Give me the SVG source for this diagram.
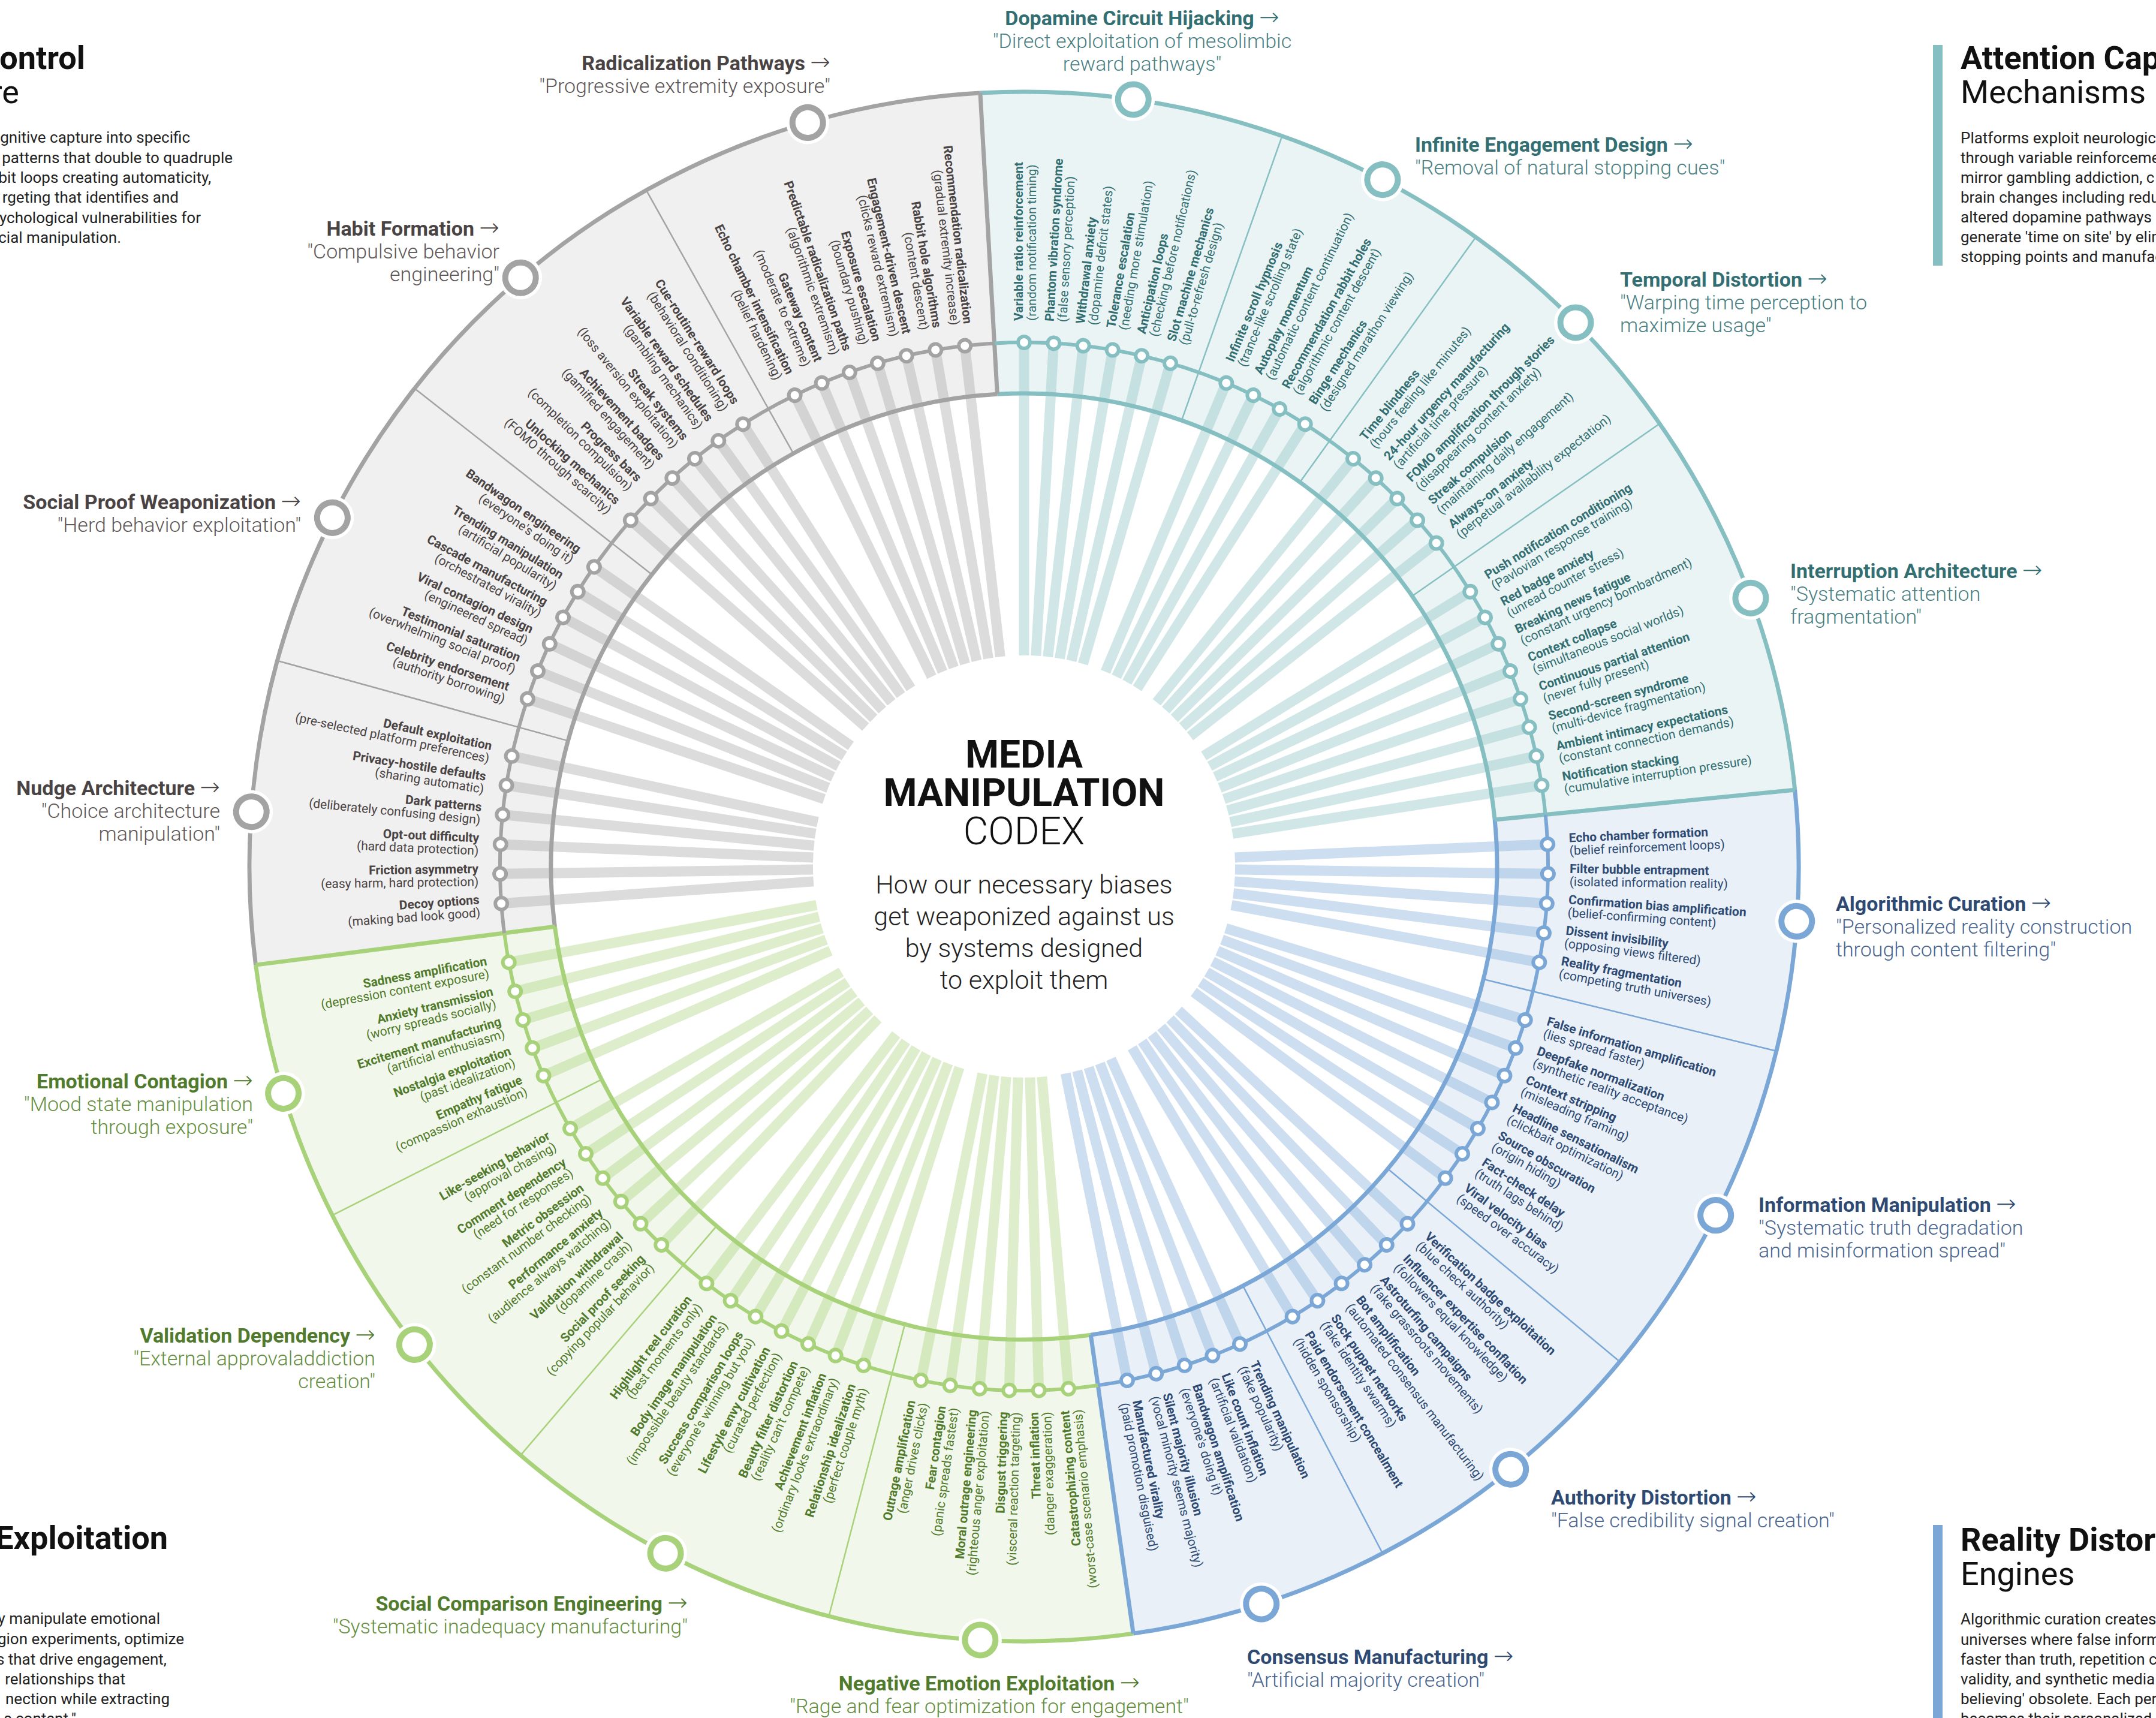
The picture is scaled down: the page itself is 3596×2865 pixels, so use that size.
<svg xmlns="http://www.w3.org/2000/svg" xmlns:xlink="http://www.w3.org/1999/xlink" width="3596" height="2865" viewBox="0 0 3596 2865">
<style>
text{font-family:Roboto,"Liberation Sans",Arial,sans-serif}
.b{font-weight:700;font-size:21px}
.p{font-weight:400;font-size:21px}
.L{text-anchor:end}
.cT{fill:#336f72}.cB{fill:#2e4a72}.cG{fill:#517b2c}.cY{fill:#4a4343}
.rT{stroke:#85bfc1}.rB{stroke:#7ba7d7}.rG{stroke:#a8d27a}.rY{stroke:#a3a3a3}
.arc{fill:none;stroke-width:7}
.ring{fill:none;stroke-width:6}
.dv{stroke-width:2.5}
.bd7{stroke-width:7}
.halo{fill:#fff}
.node{fill:#fff;stroke-width:10}
.lt{font-weight:700;font-size:34px}
.ls{font-weight:300;font-size:34px}
.ar{font-family:"DejaVu Sans",sans-serif;font-weight:200;font-size:40px}
.lT{fill:#336f72}.sT{fill:#4b8183}
.lB{fill:#2e4a72}.sB{fill:#4a6690}
.lG{fill:#517b2c}.sG{fill:#66903f}
.lY{fill:#4a4343}.sY{fill:#5e5757}
.h1{font-weight:700;font-size:54px;fill:#111}
.h2{font-weight:400;font-size:54px;fill:#111}
.bt{font-weight:400;font-size:26px;fill:#222}
.m1{font-weight:700;font-size:64px;fill:#111;text-anchor:middle}
.m2{font-weight:300;font-size:64px;fill:#111;text-anchor:middle}
.m3{font-weight:300;font-size:43px;fill:#222;text-anchor:middle}
</style>
<defs>
<line id="ry" x1="1708" y1="1093" x2="1708" y2="571" stroke-width="17" stroke-opacity="0.38"/>
<circle id="dt" cx="1708" cy="571" r="10" fill="#fff" stroke-width="6"/>
<line id="dl" x1="1708" y1="656" x2="1708" y2="153"/>
</defs>
<rect width="3596" height="2865" fill="#fff"/>

<g id="panels">
<path fill="#eaf4f4" d="M1634.9,155.1 A1292,1292 0 0 1 2993.7,1317.2 L2493.1,1367.0 A789,789 0 0 0 1663.4,657.3 Z"/>
<path fill="#e9f0f8" d="M2993.7,1317.2 A1292,1292 0 0 1 1890.2,2724.1 L1819.3,2226.1 A789,789 0 0 0 2493.1,1367.0 Z"/>
<path fill="#f1f7ea" d="M1890.2,2724.1 A1292,1292 0 0 1 426.5,1609.1 L925.4,1545.2 A789,789 0 0 0 1819.3,2226.1 Z"/>
<path fill="#f0f0f0" d="M426.5,1609.1 A1292,1292 0 0 1 1634.9,155.1 L1663.4,657.3 A789,789 0 0 0 925.4,1545.2 Z"/>
</g>

<g id="connectors">
<use xlink:href="#ry" class="rT" transform="rotate(0 1708 1445)"/>
<use xlink:href="#ry" class="rT" transform="rotate(3.2432 1708 1445)"/>
<use xlink:href="#ry" class="rT" transform="rotate(6.4865 1708 1445)"/>
<use xlink:href="#ry" class="rT" transform="rotate(9.7297 1708 1445)"/>
<use xlink:href="#ry" class="rT" transform="rotate(12.973 1708 1445)"/>
<use xlink:href="#ry" class="rT" transform="rotate(16.2162 1708 1445)"/>
<use xlink:href="#ry" class="rT" transform="rotate(22.7027 1708 1445)"/>
<use xlink:href="#ry" class="rT" transform="rotate(25.9459 1708 1445)"/>
<use xlink:href="#ry" class="rT" transform="rotate(29.1892 1708 1445)"/>
<use xlink:href="#ry" class="rT" transform="rotate(32.4324 1708 1445)"/>
<use xlink:href="#ry" class="rT" transform="rotate(38.9189 1708 1445)"/>
<use xlink:href="#ry" class="rT" transform="rotate(42.1622 1708 1445)"/>
<use xlink:href="#ry" class="rT" transform="rotate(45.4054 1708 1445)"/>
<use xlink:href="#ry" class="rT" transform="rotate(48.6486 1708 1445)"/>
<use xlink:href="#ry" class="rT" transform="rotate(51.8919 1708 1445)"/>
<use xlink:href="#ry" class="rT" transform="rotate(58.3784 1708 1445)"/>
<use xlink:href="#ry" class="rT" transform="rotate(61.6216 1708 1445)"/>
<use xlink:href="#ry" class="rT" transform="rotate(64.8649 1708 1445)"/>
<use xlink:href="#ry" class="rT" transform="rotate(68.1081 1708 1445)"/>
<use xlink:href="#ry" class="rT" transform="rotate(71.3514 1708 1445)"/>
<use xlink:href="#ry" class="rT" transform="rotate(74.5946 1708 1445)"/>
<use xlink:href="#ry" class="rT" transform="rotate(77.8378 1708 1445)"/>
<use xlink:href="#ry" class="rT" transform="rotate(81.0811 1708 1445)"/>
<use xlink:href="#ry" class="rB" transform="rotate(87.5676 1708 1445)"/>
<use xlink:href="#ry" class="rB" transform="rotate(90.8108 1708 1445)"/>
<use xlink:href="#ry" class="rB" transform="rotate(94.0541 1708 1445)"/>
<use xlink:href="#ry" class="rB" transform="rotate(97.2973 1708 1445)"/>
<use xlink:href="#ry" class="rB" transform="rotate(100.5405 1708 1445)"/>
<use xlink:href="#ry" class="rB" transform="rotate(107.027 1708 1445)"/>
<use xlink:href="#ry" class="rB" transform="rotate(110.2703 1708 1445)"/>
<use xlink:href="#ry" class="rB" transform="rotate(113.5135 1708 1445)"/>
<use xlink:href="#ry" class="rB" transform="rotate(116.7568 1708 1445)"/>
<use xlink:href="#ry" class="rB" transform="rotate(120 1708 1445)"/>
<use xlink:href="#ry" class="rB" transform="rotate(123.2432 1708 1445)"/>
<use xlink:href="#ry" class="rB" transform="rotate(126.4865 1708 1445)"/>
<use xlink:href="#ry" class="rB" transform="rotate(132.973 1708 1445)"/>
<use xlink:href="#ry" class="rB" transform="rotate(136.2162 1708 1445)"/>
<use xlink:href="#ry" class="rB" transform="rotate(139.4595 1708 1445)"/>
<use xlink:href="#ry" class="rB" transform="rotate(142.7027 1708 1445)"/>
<use xlink:href="#ry" class="rB" transform="rotate(145.9459 1708 1445)"/>
<use xlink:href="#ry" class="rB" transform="rotate(149.1892 1708 1445)"/>
<use xlink:href="#ry" class="rB" transform="rotate(155.6757 1708 1445)"/>
<use xlink:href="#ry" class="rB" transform="rotate(158.9189 1708 1445)"/>
<use xlink:href="#ry" class="rB" transform="rotate(162.1622 1708 1445)"/>
<use xlink:href="#ry" class="rB" transform="rotate(165.4054 1708 1445)"/>
<use xlink:href="#ry" class="rB" transform="rotate(168.6486 1708 1445)"/>
<use xlink:href="#ry" class="rG" transform="rotate(175.1351 1708 1445)"/>
<use xlink:href="#ry" class="rG" transform="rotate(178.3784 1708 1445)"/>
<use xlink:href="#ry" class="rG" transform="rotate(181.6216 1708 1445)"/>
<use xlink:href="#ry" class="rG" transform="rotate(184.8649 1708 1445)"/>
<use xlink:href="#ry" class="rG" transform="rotate(188.1081 1708 1445)"/>
<use xlink:href="#ry" class="rG" transform="rotate(191.3514 1708 1445)"/>
<use xlink:href="#ry" class="rG" transform="rotate(197.8378 1708 1445)"/>
<use xlink:href="#ry" class="rG" transform="rotate(201.0811 1708 1445)"/>
<use xlink:href="#ry" class="rG" transform="rotate(204.3243 1708 1445)"/>
<use xlink:href="#ry" class="rG" transform="rotate(207.5676 1708 1445)"/>
<use xlink:href="#ry" class="rG" transform="rotate(210.8108 1708 1445)"/>
<use xlink:href="#ry" class="rG" transform="rotate(214.0541 1708 1445)"/>
<use xlink:href="#ry" class="rG" transform="rotate(217.2973 1708 1445)"/>
<use xlink:href="#ry" class="rG" transform="rotate(223.7838 1708 1445)"/>
<use xlink:href="#ry" class="rG" transform="rotate(227.027 1708 1445)"/>
<use xlink:href="#ry" class="rG" transform="rotate(230.2703 1708 1445)"/>
<use xlink:href="#ry" class="rG" transform="rotate(233.5135 1708 1445)"/>
<use xlink:href="#ry" class="rG" transform="rotate(236.7568 1708 1445)"/>
<use xlink:href="#ry" class="rG" transform="rotate(240 1708 1445)"/>
<use xlink:href="#ry" class="rG" transform="rotate(246.4865 1708 1445)"/>
<use xlink:href="#ry" class="rG" transform="rotate(249.7297 1708 1445)"/>
<use xlink:href="#ry" class="rG" transform="rotate(252.973 1708 1445)"/>
<use xlink:href="#ry" class="rG" transform="rotate(256.2162 1708 1445)"/>
<use xlink:href="#ry" class="rG" transform="rotate(259.4595 1708 1445)"/>
<use xlink:href="#ry" class="rY" transform="rotate(265.9459 1708 1445)"/>
<use xlink:href="#ry" class="rY" transform="rotate(269.1892 1708 1445)"/>
<use xlink:href="#ry" class="rY" transform="rotate(272.4324 1708 1445)"/>
<use xlink:href="#ry" class="rY" transform="rotate(275.6757 1708 1445)"/>
<use xlink:href="#ry" class="rY" transform="rotate(278.9189 1708 1445)"/>
<use xlink:href="#ry" class="rY" transform="rotate(282.1622 1708 1445)"/>
<use xlink:href="#ry" class="rY" transform="rotate(288.6486 1708 1445)"/>
<use xlink:href="#ry" class="rY" transform="rotate(291.8919 1708 1445)"/>
<use xlink:href="#ry" class="rY" transform="rotate(295.1351 1708 1445)"/>
<use xlink:href="#ry" class="rY" transform="rotate(298.3784 1708 1445)"/>
<use xlink:href="#ry" class="rY" transform="rotate(301.6216 1708 1445)"/>
<use xlink:href="#ry" class="rY" transform="rotate(304.8649 1708 1445)"/>
<use xlink:href="#ry" class="rY" transform="rotate(311.3514 1708 1445)"/>
<use xlink:href="#ry" class="rY" transform="rotate(314.5946 1708 1445)"/>
<use xlink:href="#ry" class="rY" transform="rotate(317.8378 1708 1445)"/>
<use xlink:href="#ry" class="rY" transform="rotate(321.0811 1708 1445)"/>
<use xlink:href="#ry" class="rY" transform="rotate(324.3243 1708 1445)"/>
<use xlink:href="#ry" class="rY" transform="rotate(327.5676 1708 1445)"/>
<use xlink:href="#ry" class="rY" transform="rotate(334.0541 1708 1445)"/>
<use xlink:href="#ry" class="rY" transform="rotate(337.2973 1708 1445)"/>
<use xlink:href="#ry" class="rY" transform="rotate(340.5405 1708 1445)"/>
<use xlink:href="#ry" class="rY" transform="rotate(343.7838 1708 1445)"/>
<use xlink:href="#ry" class="rY" transform="rotate(347.027 1708 1445)"/>
<use xlink:href="#ry" class="rY" transform="rotate(350.2703 1708 1445)"/>
<use xlink:href="#ry" class="rY" transform="rotate(353.5135 1708 1445)"/>
</g>

<g id="frame">
<path class="arc rT" d="M1634.9,155.1 A1292,1292 0 0 1 2993.7,1317.2"/>
<path class="arc rB" d="M2993.7,1317.2 A1292,1292 0 0 1 1890.2,2724.1"/>
<path class="arc rG" d="M1890.2,2724.1 A1292,1292 0 0 1 426.5,1609.1"/>
<path class="arc rY" d="M426.5,1609.1 A1292,1292 0 0 1 1634.9,155.1"/>
<path class="arc rT" d="M1663.4,657.3 A789,789 0 0 1 2493.1,1367.0"/>
<path class="arc rB" d="M2493.1,1367.0 A789,789 0 0 1 1819.3,2226.1"/>
<path class="arc rG" d="M1819.3,2226.1 A789,789 0 0 1 925.4,1545.2"/>
<path class="arc rY" d="M925.4,1545.2 A789,789 0 0 1 1663.4,657.3"/>
<use xlink:href="#dl" class="dv rT" transform="rotate(19.4595 1708 1445)"/>
<use xlink:href="#dl" class="dv rT" transform="rotate(35.6757 1708 1445)"/>
<use xlink:href="#dl" class="dv rT" transform="rotate(55.1351 1708 1445)"/>
<use xlink:href="#dl" class="dv rB" transform="rotate(103.7838 1708 1445)"/>
<use xlink:href="#dl" class="dv rB" transform="rotate(129.7297 1708 1445)"/>
<use xlink:href="#dl" class="dv rB" transform="rotate(152.4324 1708 1445)"/>
<use xlink:href="#dl" class="dv rG" transform="rotate(194.5946 1708 1445)"/>
<use xlink:href="#dl" class="dv rG" transform="rotate(220.5405 1708 1445)"/>
<use xlink:href="#dl" class="dv rG" transform="rotate(243.2432 1708 1445)"/>
<use xlink:href="#dl" class="dv rY" transform="rotate(285.4054 1708 1445)"/>
<use xlink:href="#dl" class="dv rY" transform="rotate(308.1081 1708 1445)"/>
<use xlink:href="#dl" class="dv rY" transform="rotate(330.8108 1708 1445)"/>
<use xlink:href="#dl" class="bd7 rT" transform="rotate(84.3243 1708 1445)"/>
<use xlink:href="#dl" class="bd7 rB" transform="rotate(171.8919 1708 1445)"/>
<use xlink:href="#dl" class="bd7 rG" transform="rotate(262.7027 1708 1445)"/>
<use xlink:href="#dl" class="bd7 rY" transform="rotate(356.7568 1708 1445)"/>
<path class="ring rT" d="M1658.6,572.4 A874,874 0 0 1 2577.7,1358.6"/>
<path class="ring rB" d="M2577.7,1358.6 A874,874 0 0 1 1831.3,2310.3"/>
<path class="ring rG" d="M1831.3,2310.3 A874,874 0 0 1 841.1,1556.0"/>
<path class="ring rY" d="M841.1,1556.0 A874,874 0 0 1 1658.6,572.4"/>
</g>

<g id="items">
<g id="it0" transform="rotate(0 1708 1445)"><use xlink:href="#dt" class="rT"/><text class="cT" transform="translate(1708 535) rotate(-90)"><tspan class="b" x="0" y="-2">Variable ratio reinforcement</tspan><tspan class="p" x="0" y="19.5">(random notification timing)</tspan></text></g>
<g id="it1" transform="rotate(3.2432 1708 1445)"><use xlink:href="#dt" class="rT"/><text class="cT" transform="translate(1708 535) rotate(-90)"><tspan class="b" x="0" y="-2">Phantom vibration syndrome</tspan><tspan class="p" x="0" y="19.5">(false sensory perception)</tspan></text></g>
<g id="it2" transform="rotate(6.4865 1708 1445)"><use xlink:href="#dt" class="rT"/><text class="cT" transform="translate(1708 535) rotate(-90)"><tspan class="b" x="0" y="-2">Withdrawal anxiety</tspan><tspan class="p" x="0" y="19.5">(dopamine deficit states)</tspan></text></g>
<g id="it3" transform="rotate(9.7297 1708 1445)"><use xlink:href="#dt" class="rT"/><text class="cT" transform="translate(1708 535) rotate(-90)"><tspan class="b" x="0" y="-2">Tolerance escalation</tspan><tspan class="p" x="0" y="19.5">(needing more stimulation)</tspan></text></g>
<g id="it4" transform="rotate(12.973 1708 1445)"><use xlink:href="#dt" class="rT"/><text class="cT" transform="translate(1708 535) rotate(-90)"><tspan class="b" x="0" y="-2">Anticipation loops</tspan><tspan class="p" x="0" y="19.5">(checking before notifications)</tspan></text></g>
<g id="it5" transform="rotate(16.2162 1708 1445)"><use xlink:href="#dt" class="rT"/><text class="cT" transform="translate(1708 535) rotate(-90)"><tspan class="b" x="0" y="-2">Slot machine mechanics</tspan><tspan class="p" x="0" y="19.5">(pull-to-refresh design)</tspan></text></g>
<g id="it7" transform="rotate(22.7027 1708 1445)"><use xlink:href="#dt" class="rT"/><text class="cT" transform="translate(1708 535) rotate(-90)"><tspan class="b" x="0" y="-2">Infinite scroll hypnosis</tspan><tspan class="p" x="0" y="19.5">(trance-like scrolling state)</tspan></text></g>
<g id="it8" transform="rotate(25.9459 1708 1445)"><use xlink:href="#dt" class="rT"/><text class="cT" transform="translate(1708 535) rotate(-90)"><tspan class="b" x="0" y="-2">Autoplay momentum</tspan><tspan class="p" x="0" y="19.5">(automatic content continuation)</tspan></text></g>
<g id="it9" transform="rotate(29.1892 1708 1445)"><use xlink:href="#dt" class="rT"/><text class="cT" transform="translate(1708 535) rotate(-90)"><tspan class="b" x="0" y="-2">Recommendation rabbit holes</tspan><tspan class="p" x="0" y="19.5">(algorithmic content descent)</tspan></text></g>
<g id="it10" transform="rotate(32.4324 1708 1445)"><use xlink:href="#dt" class="rT"/><text class="cT" transform="translate(1708 535) rotate(-90)"><tspan class="b" x="0" y="-2">Binge mechanics</tspan><tspan class="p" x="0" y="19.5">(designed marathon viewing)</tspan></text></g>
<g id="it12" transform="rotate(38.9189 1708 1445)"><use xlink:href="#dt" class="rT"/><text class="cT" transform="translate(1708 535) rotate(-90)"><tspan class="b" x="0" y="-2">Time blindness</tspan><tspan class="p" x="0" y="19.5">(hours feeling like minutes)</tspan></text></g>
<g id="it13" transform="rotate(42.1622 1708 1445)"><use xlink:href="#dt" class="rT"/><text class="cT" transform="translate(1708 535) rotate(-90)"><tspan class="b" x="0" y="-2">24-hour urgency manufacturing</tspan><tspan class="p" x="0" y="19.5">(artificial time pressure)</tspan></text></g>
<g id="it14" transform="rotate(45.4054 1708 1445)"><use xlink:href="#dt" class="rT"/><text class="cT" transform="translate(1708 535) rotate(-90)"><tspan class="b" x="0" y="-2">FOMO amplification through stories</tspan><tspan class="p" x="0" y="19.5">(disappearing content anxiety)</tspan></text></g>
<g id="it15" transform="rotate(48.6486 1708 1445)"><use xlink:href="#dt" class="rT"/><text class="cT" transform="translate(1708 535) rotate(-90)"><tspan class="b" x="0" y="-2">Streak compulsion</tspan><tspan class="p" x="0" y="19.5">(maintaining daily engagement)</tspan></text></g>
<g id="it16" transform="rotate(51.8919 1708 1445)"><use xlink:href="#dt" class="rT"/><text class="cT" transform="translate(1708 535) rotate(-90)"><tspan class="b" x="0" y="-2">Always-on anxiety</tspan><tspan class="p" x="0" y="19.5">(perpetual availability expectation)</tspan></text></g>
<g id="it18" transform="rotate(58.3784 1708 1445)"><use xlink:href="#dt" class="rT"/><text class="cT" transform="translate(1708 535) rotate(-90)"><tspan class="b" x="0" y="-2">Push notification conditioning</tspan><tspan class="p" x="0" y="19.5">(Pavlovian response training)</tspan></text></g>
<g id="it19" transform="rotate(61.6216 1708 1445)"><use xlink:href="#dt" class="rT"/><text class="cT" transform="translate(1708 535) rotate(-90)"><tspan class="b" x="0" y="-2">Red badge anxiety</tspan><tspan class="p" x="0" y="19.5">(unread counter stress)</tspan></text></g>
<g id="it20" transform="rotate(64.8649 1708 1445)"><use xlink:href="#dt" class="rT"/><text class="cT" transform="translate(1708 535) rotate(-90)"><tspan class="b" x="0" y="-2">Breaking news fatigue</tspan><tspan class="p" x="0" y="19.5">(constant urgency bombardment)</tspan></text></g>
<g id="it21" transform="rotate(68.1081 1708 1445)"><use xlink:href="#dt" class="rT"/><text class="cT" transform="translate(1708 535) rotate(-90)"><tspan class="b" x="0" y="-2">Context collapse</tspan><tspan class="p" x="0" y="19.5">(simultaneous social worlds)</tspan></text></g>
<g id="it22" transform="rotate(71.3514 1708 1445)"><use xlink:href="#dt" class="rT"/><text class="cT" transform="translate(1708 535) rotate(-90)"><tspan class="b" x="0" y="-2">Continuous partial attention</tspan><tspan class="p" x="0" y="19.5">(never fully present)</tspan></text></g>
<g id="it23" transform="rotate(74.5946 1708 1445)"><use xlink:href="#dt" class="rT"/><text class="cT" transform="translate(1708 535) rotate(-90)"><tspan class="b" x="0" y="-2">Second-screen syndrome</tspan><tspan class="p" x="0" y="19.5">(multi-device fragmentation)</tspan></text></g>
<g id="it24" transform="rotate(77.8378 1708 1445)"><use xlink:href="#dt" class="rT"/><text class="cT" transform="translate(1708 535) rotate(-90)"><tspan class="b" x="0" y="-2">Ambient intimacy expectations</tspan><tspan class="p" x="0" y="19.5">(constant connection demands)</tspan></text></g>
<g id="it25" transform="rotate(81.0811 1708 1445)"><use xlink:href="#dt" class="rT"/><text class="cT" transform="translate(1708 535) rotate(-90)"><tspan class="b" x="0" y="-2">Notification stacking</tspan><tspan class="p" x="0" y="19.5">(cumulative interruption pressure)</tspan></text></g>

<g id="it27" transform="rotate(87.5676 1708 1445)"><use xlink:href="#dt" class="rB"/><text class="cB" transform="translate(1708 535) rotate(-90)"><tspan class="b" x="0" y="-2">Echo chamber formation</tspan><tspan class="p" x="0" y="19.5">(belief reinforcement loops)</tspan></text></g>
<g id="it28" transform="rotate(90.8108 1708 1445)"><use xlink:href="#dt" class="rB"/><text class="cB" transform="translate(1708 535) rotate(-90)"><tspan class="b" x="0" y="-2">Filter bubble entrapment</tspan><tspan class="p" x="0" y="19.5">(isolated information reality)</tspan></text></g>
<g id="it29" transform="rotate(94.0541 1708 1445)"><use xlink:href="#dt" class="rB"/><text class="cB" transform="translate(1708 535) rotate(-90)"><tspan class="b" x="0" y="-2">Confirmation bias amplification</tspan><tspan class="p" x="0" y="19.5">(belief-confirming content)</tspan></text></g>
<g id="it30" transform="rotate(97.2973 1708 1445)"><use xlink:href="#dt" class="rB"/><text class="cB" transform="translate(1708 535) rotate(-90)"><tspan class="b" x="0" y="-2">Dissent invisibility</tspan><tspan class="p" x="0" y="19.5">(opposing views filtered)</tspan></text></g>
<g id="it31" transform="rotate(100.5405 1708 1445)"><use xlink:href="#dt" class="rB"/><text class="cB" transform="translate(1708 535) rotate(-90)"><tspan class="b" x="0" y="-2">Reality fragmentation</tspan><tspan class="p" x="0" y="19.5">(competing truth universes)</tspan></text></g>
<g id="it33" transform="rotate(107.027 1708 1445)"><use xlink:href="#dt" class="rB"/><text class="cB" transform="translate(1708 535) rotate(-90)"><tspan class="b" x="0" y="-2">False information amplification</tspan><tspan class="p" x="0" y="19.5">(lies spread faster)</tspan></text></g>
<g id="it34" transform="rotate(110.2703 1708 1445)"><use xlink:href="#dt" class="rB"/><text class="cB" transform="translate(1708 535) rotate(-90)"><tspan class="b" x="0" y="-2">Deepfake normalization</tspan><tspan class="p" x="0" y="19.5">(synthetic reality acceptance)</tspan></text></g>
<g id="it35" transform="rotate(113.5135 1708 1445)"><use xlink:href="#dt" class="rB"/><text class="cB" transform="translate(1708 535) rotate(-90)"><tspan class="b" x="0" y="-2">Context stripping</tspan><tspan class="p" x="0" y="19.5">(misleading framing)</tspan></text></g>
<g id="it36" transform="rotate(116.7568 1708 1445)"><use xlink:href="#dt" class="rB"/><text class="cB" transform="translate(1708 535) rotate(-90)"><tspan class="b" x="0" y="-2">Headline sensationalism</tspan><tspan class="p" x="0" y="19.5">(clickbait optimization)</tspan></text></g>
<g id="it37" transform="rotate(120 1708 1445)"><use xlink:href="#dt" class="rB"/><text class="cB" transform="translate(1708 535) rotate(-90)"><tspan class="b" x="0" y="-2">Source obscuration</tspan><tspan class="p" x="0" y="19.5">(origin hiding)</tspan></text></g>
<g id="it38" transform="rotate(123.2432 1708 1445)"><use xlink:href="#dt" class="rB"/><text class="cB" transform="translate(1708 535) rotate(-90)"><tspan class="b" x="0" y="-2">Fact-check delay</tspan><tspan class="p" x="0" y="19.5">(truth lags behind)</tspan></text></g>
<g id="it39" transform="rotate(126.4865 1708 1445)"><use xlink:href="#dt" class="rB"/><text class="cB" transform="translate(1708 535) rotate(-90)"><tspan class="b" x="0" y="-2">Viral velocity bias</tspan><tspan class="p" x="0" y="19.5">(speed over accuracy)</tspan></text></g>
<g id="it41" transform="rotate(132.973 1708 1445)"><use xlink:href="#dt" class="rB"/><text class="cB" transform="translate(1708 535) rotate(-90)"><tspan class="b" x="0" y="-2">Verification badge exploitation</tspan><tspan class="p" x="0" y="19.5">(blue check authority)</tspan></text></g>
<g id="it42" transform="rotate(136.2162 1708 1445)"><use xlink:href="#dt" class="rB"/><text class="cB" transform="translate(1708 535) rotate(-90)"><tspan class="b" x="0" y="-2">Influencer expertise conflation</tspan><tspan class="p" x="0" y="19.5">(followers equal knowledge)</tspan></text></g>
<g id="it43" transform="rotate(139.4595 1708 1445)"><use xlink:href="#dt" class="rB"/><text class="cB" transform="translate(1708 535) rotate(-90)"><tspan class="b" x="0" y="-2">Astroturfing campaigns</tspan><tspan class="p" x="0" y="19.5">(fake grassroots movements)</tspan></text></g>
<g id="it44" transform="rotate(142.7027 1708 1445)"><use xlink:href="#dt" class="rB"/><text class="cB" transform="translate(1708 535) rotate(-90)"><tspan class="b" x="0" y="-2">Bot amplification</tspan><tspan class="p" x="0" y="19.5">(automated consensus manufacturing)</tspan></text></g>
<g id="it45" transform="rotate(145.9459 1708 1445)"><use xlink:href="#dt" class="rB"/><text class="cB" transform="translate(1708 535) rotate(-90)"><tspan class="b" x="0" y="-2">Sock puppet networks</tspan><tspan class="p" x="0" y="19.5">(fake identity swarms)</tspan></text></g>
<g id="it46" transform="rotate(149.1892 1708 1445)"><use xlink:href="#dt" class="rB"/><text class="cB" transform="translate(1708 535) rotate(-90)"><tspan class="b" x="0" y="-2">Paid endorsement concealment</tspan><tspan class="p" x="0" y="19.5">(hidden sponsorship)</tspan></text></g>
<g id="it48" transform="rotate(155.6757 1708 1445)"><use xlink:href="#dt" class="rB"/><text class="cB" transform="translate(1708 535) rotate(-90)"><tspan class="b" x="0" y="-2">Trending manipulation</tspan><tspan class="p" x="0" y="19.5">(fake popularity)</tspan></text></g>
<g id="it49" transform="rotate(158.9189 1708 1445)"><use xlink:href="#dt" class="rB"/><text class="cB" transform="translate(1708 535) rotate(-90)"><tspan class="b" x="0" y="-2">Like count inflation</tspan><tspan class="p" x="0" y="19.5">(artificial validation)</tspan></text></g>
<g id="it50" transform="rotate(162.1622 1708 1445)"><use xlink:href="#dt" class="rB"/><text class="cB" transform="translate(1708 535) rotate(-90)"><tspan class="b" x="0" y="-2">Bandwagon amplification</tspan><tspan class="p" x="0" y="19.5">(everyone's doing it)</tspan></text></g>
<g id="it51" transform="rotate(165.4054 1708 1445)"><use xlink:href="#dt" class="rB"/><text class="cB" transform="translate(1708 535) rotate(-90)"><tspan class="b" x="0" y="-2">Silent majority illusion</tspan><tspan class="p" x="0" y="19.5">(vocal minority seems majority)</tspan></text></g>
<g id="it52" transform="rotate(168.6486 1708 1445)"><use xlink:href="#dt" class="rB"/><text class="cB" transform="translate(1708 535) rotate(-90)"><tspan class="b" x="0" y="-2">Manufactured virality</tspan><tspan class="p" x="0" y="19.5">(paid promotion disguised)</tspan></text></g>

<g id="it54" transform="rotate(175.1351 1708 1445)"><use xlink:href="#dt" class="rG"/><text class="cG L" transform="translate(1708 535) rotate(90)"><tspan class="b" x="0" y="-2">Catastrophizing content</tspan><tspan class="p" x="0" y="19.5">(worst-case scenario emphasis)</tspan></text></g>
<g id="it55" transform="rotate(178.3784 1708 1445)"><use xlink:href="#dt" class="rG"/><text class="cG L" transform="translate(1708 535) rotate(90)"><tspan class="b" x="0" y="-2">Threat inflation</tspan><tspan class="p" x="0" y="19.5">(danger exaggeration)</tspan></text></g>
<g id="it56" transform="rotate(181.6216 1708 1445)"><use xlink:href="#dt" class="rG"/><text class="cG L" transform="translate(1708 535) rotate(90)"><tspan class="b" x="0" y="-2">Disgust triggering</tspan><tspan class="p" x="0" y="19.5">(visceral reaction targeting)</tspan></text></g>
<g id="it57" transform="rotate(184.8649 1708 1445)"><use xlink:href="#dt" class="rG"/><text class="cG L" transform="translate(1708 535) rotate(90)"><tspan class="b" x="0" y="-2">Moral outrage engineering</tspan><tspan class="p" x="0" y="19.5">(righteous anger exploitation)</tspan></text></g>
<g id="it58" transform="rotate(188.1081 1708 1445)"><use xlink:href="#dt" class="rG"/><text class="cG L" transform="translate(1708 535) rotate(90)"><tspan class="b" x="0" y="-2">Fear contagion</tspan><tspan class="p" x="0" y="19.5">(panic spreads fastest)</tspan></text></g>
<g id="it59" transform="rotate(191.3514 1708 1445)"><use xlink:href="#dt" class="rG"/><text class="cG L" transform="translate(1708 535) rotate(90)"><tspan class="b" x="0" y="-2">Outrage amplification</tspan><tspan class="p" x="0" y="19.5">(anger drives clicks)</tspan></text></g>
<g id="it61" transform="rotate(197.8378 1708 1445)"><use xlink:href="#dt" class="rG"/><text class="cG L" transform="translate(1708 535) rotate(90)"><tspan class="b" x="0" y="-2">Relationship idealization</tspan><tspan class="p" x="0" y="19.5">(perfect couple myth)</tspan></text></g>
<g id="it62" transform="rotate(201.0811 1708 1445)"><use xlink:href="#dt" class="rG"/><text class="cG L" transform="translate(1708 535) rotate(90)"><tspan class="b" x="0" y="-2">Achievement inflation</tspan><tspan class="p" x="0" y="19.5">(ordinary looks extraordinary)</tspan></text></g>
<g id="it63" transform="rotate(204.3243 1708 1445)"><use xlink:href="#dt" class="rG"/><text class="cG L" transform="translate(1708 535) rotate(90)"><tspan class="b" x="0" y="-2">Beauty filter distortion</tspan><tspan class="p" x="0" y="19.5">(reality can't compete)</tspan></text></g>
<g id="it64" transform="rotate(207.5676 1708 1445)"><use xlink:href="#dt" class="rG"/><text class="cG L" transform="translate(1708 535) rotate(90)"><tspan class="b" x="0" y="-2">Lifestyle envy cultivation</tspan><tspan class="p" x="0" y="19.5">(curated perfection)</tspan></text></g>
<g id="it65" transform="rotate(210.8108 1708 1445)"><use xlink:href="#dt" class="rG"/><text class="cG L" transform="translate(1708 535) rotate(90)"><tspan class="b" x="0" y="-2">Success comparison loops</tspan><tspan class="p" x="0" y="19.5">(everyone's winning but you)</tspan></text></g>
<g id="it66" transform="rotate(214.0541 1708 1445)"><use xlink:href="#dt" class="rG"/><text class="cG L" transform="translate(1708 535) rotate(90)"><tspan class="b" x="0" y="-2">Body image manipulation</tspan><tspan class="p" x="0" y="19.5">(impossible beauty standards)</tspan></text></g>
<g id="it67" transform="rotate(217.2973 1708 1445)"><use xlink:href="#dt" class="rG"/><text class="cG L" transform="translate(1708 535) rotate(90)"><tspan class="b" x="0" y="-2">Highlight reel curation</tspan><tspan class="p" x="0" y="19.5">(best moments only)</tspan></text></g>
<g id="it69" transform="rotate(223.7838 1708 1445)"><use xlink:href="#dt" class="rG"/><text class="cG L" transform="translate(1708 535) rotate(90)"><tspan class="b" x="0" y="-2">Social proof seeking</tspan><tspan class="p" x="0" y="19.5">(copying popular behavior)</tspan></text></g>
<g id="it70" transform="rotate(227.027 1708 1445)"><use xlink:href="#dt" class="rG"/><text class="cG L" transform="translate(1708 535) rotate(90)"><tspan class="b" x="0" y="-2">Validation withdrawal</tspan><tspan class="p" x="0" y="19.5">(dopamine crash)</tspan></text></g>
<g id="it71" transform="rotate(230.2703 1708 1445)"><use xlink:href="#dt" class="rG"/><text class="cG L" transform="translate(1708 535) rotate(90)"><tspan class="b" x="0" y="-2">Performance anxiety</tspan><tspan class="p" x="0" y="19.5">(audience always watching)</tspan></text></g>
<g id="it72" transform="rotate(233.5135 1708 1445)"><use xlink:href="#dt" class="rG"/><text class="cG L" transform="translate(1708 535) rotate(90)"><tspan class="b" x="0" y="-2">Metric obsession</tspan><tspan class="p" x="0" y="19.5">(constant number checking)</tspan></text></g>
<g id="it73" transform="rotate(236.7568 1708 1445)"><use xlink:href="#dt" class="rG"/><text class="cG L" transform="translate(1708 535) rotate(90)"><tspan class="b" x="0" y="-2">Comment dependency</tspan><tspan class="p" x="0" y="19.5">(need for responses)</tspan></text></g>
<g id="it74" transform="rotate(240 1708 1445)"><use xlink:href="#dt" class="rG"/><text class="cG L" transform="translate(1708 535) rotate(90)"><tspan class="b" x="0" y="-2">Like-seeking behavior</tspan><tspan class="p" x="0" y="19.5">(approval chasing)</tspan></text></g>
<g id="it76" transform="rotate(246.4865 1708 1445)"><use xlink:href="#dt" class="rG"/><text class="cG L" transform="translate(1708 535) rotate(90)"><tspan class="b" x="0" y="-2">Empathy fatigue</tspan><tspan class="p" x="0" y="19.5">(compassion exhaustion)</tspan></text></g>
<g id="it77" transform="rotate(249.7297 1708 1445)"><use xlink:href="#dt" class="rG"/><text class="cG L" transform="translate(1708 535) rotate(90)"><tspan class="b" x="0" y="-2">Nostalgia exploitation</tspan><tspan class="p" x="0" y="19.5">(past idealization)</tspan></text></g>
<g id="it78" transform="rotate(252.973 1708 1445)"><use xlink:href="#dt" class="rG"/><text class="cG L" transform="translate(1708 535) rotate(90)"><tspan class="b" x="0" y="-2">Excitement manufacturing</tspan><tspan class="p" x="0" y="19.5">(artificial enthusiasm)</tspan></text></g>
<g id="it79" transform="rotate(256.2162 1708 1445)"><use xlink:href="#dt" class="rG"/><text class="cG L" transform="translate(1708 535) rotate(90)"><tspan class="b" x="0" y="-2">Anxiety transmission</tspan><tspan class="p" x="0" y="19.5">(worry spreads socially)</tspan></text></g>
<g id="it80" transform="rotate(259.4595 1708 1445)"><use xlink:href="#dt" class="rG"/><text class="cG L" transform="translate(1708 535) rotate(90)"><tspan class="b" x="0" y="-2">Sadness amplification</tspan><tspan class="p" x="0" y="19.5">(depression content exposure)</tspan></text></g>

<g id="it82" transform="rotate(265.9459 1708 1445)"><use xlink:href="#dt" class="rY"/><text class="cY L" transform="translate(1708 535) rotate(90)"><tspan class="b" x="0" y="-2">Decoy options</tspan><tspan class="p" x="0" y="19.5">(making bad look good)</tspan></text></g>
<g id="it83" transform="rotate(269.1892 1708 1445)"><use xlink:href="#dt" class="rY"/><text class="cY L" transform="translate(1708 535) rotate(90)"><tspan class="b" x="0" y="-2">Friction asymmetry</tspan><tspan class="p" x="0" y="19.5">(easy harm, hard protection)</tspan></text></g>
<g id="it84" transform="rotate(272.4324 1708 1445)"><use xlink:href="#dt" class="rY"/><text class="cY L" transform="translate(1708 535) rotate(90)"><tspan class="b" x="0" y="-2">Opt-out difficulty</tspan><tspan class="p" x="0" y="19.5">(hard data protection)</tspan></text></g>
<g id="it85" transform="rotate(275.6757 1708 1445)"><use xlink:href="#dt" class="rY"/><text class="cY L" transform="translate(1708 535) rotate(90)"><tspan class="b" x="0" y="-2">Dark patterns</tspan><tspan class="p" x="0" y="19.5">(deliberately confusing design)</tspan></text></g>
<g id="it86" transform="rotate(278.9189 1708 1445)"><use xlink:href="#dt" class="rY"/><text class="cY L" transform="translate(1708 535) rotate(90)"><tspan class="b" x="0" y="-2">Privacy-hostile defaults</tspan><tspan class="p" x="0" y="19.5">(sharing automatic)</tspan></text></g>
<g id="it87" transform="rotate(282.1622 1708 1445)"><use xlink:href="#dt" class="rY"/><text class="cY L" transform="translate(1708 535) rotate(90)"><tspan class="b" x="0" y="-2">Default exploitation</tspan><tspan class="p" x="0" y="19.5">(pre-selected platform preferences)</tspan></text></g>
<g id="it89" transform="rotate(288.6486 1708 1445)"><use xlink:href="#dt" class="rY"/><text class="cY L" transform="translate(1708 535) rotate(90)"><tspan class="b" x="0" y="-2">Celebrity endorsement</tspan><tspan class="p" x="0" y="19.5">(authority borrowing)</tspan></text></g>
<g id="it90" transform="rotate(291.8919 1708 1445)"><use xlink:href="#dt" class="rY"/><text class="cY L" transform="translate(1708 535) rotate(90)"><tspan class="b" x="0" y="-2">Testimonial saturation</tspan><tspan class="p" x="0" y="19.5">(overwhelming social proof)</tspan></text></g>
<g id="it91" transform="rotate(295.1351 1708 1445)"><use xlink:href="#dt" class="rY"/><text class="cY L" transform="translate(1708 535) rotate(90)"><tspan class="b" x="0" y="-2">Viral contagion design</tspan><tspan class="p" x="0" y="19.5">(engineered spread)</tspan></text></g>
<g id="it92" transform="rotate(298.3784 1708 1445)"><use xlink:href="#dt" class="rY"/><text class="cY L" transform="translate(1708 535) rotate(90)"><tspan class="b" x="0" y="-2">Cascade manufacturing</tspan><tspan class="p" x="0" y="19.5">(orchestrated virality)</tspan></text></g>
<g id="it93" transform="rotate(301.6216 1708 1445)"><use xlink:href="#dt" class="rY"/><text class="cY L" transform="translate(1708 535) rotate(90)"><tspan class="b" x="0" y="-2">Trending manipulation</tspan><tspan class="p" x="0" y="19.5">(artificial popularity)</tspan></text></g>
<g id="it94" transform="rotate(304.8649 1708 1445)"><use xlink:href="#dt" class="rY"/><text class="cY L" transform="translate(1708 535) rotate(90)"><tspan class="b" x="0" y="-2">Bandwagon engineering</tspan><tspan class="p" x="0" y="19.5">(everyone's doing it)</tspan></text></g>
<g id="it96" transform="rotate(311.3514 1708 1445)"><use xlink:href="#dt" class="rY"/><text class="cY L" transform="translate(1708 535) rotate(90)"><tspan class="b" x="0" y="-2">Unlocking mechanics</tspan><tspan class="p" x="0" y="19.5">(FOMO through scarcity)</tspan></text></g>
<g id="it97" transform="rotate(314.5946 1708 1445)"><use xlink:href="#dt" class="rY"/><text class="cY L" transform="translate(1708 535) rotate(90)"><tspan class="b" x="0" y="-2">Progress bars</tspan><tspan class="p" x="0" y="19.5">(completion compulsion)</tspan></text></g>
<g id="it98" transform="rotate(317.8378 1708 1445)"><use xlink:href="#dt" class="rY"/><text class="cY L" transform="translate(1708 535) rotate(90)"><tspan class="b" x="0" y="-2">Achievement badges</tspan><tspan class="p" x="0" y="19.5">(gamified engagement)</tspan></text></g>
<g id="it99" transform="rotate(321.0811 1708 1445)"><use xlink:href="#dt" class="rY"/><text class="cY L" transform="translate(1708 535) rotate(90)"><tspan class="b" x="0" y="-2">Streak systems</tspan><tspan class="p" x="0" y="19.5">(loss aversion exploitation)</tspan></text></g>
<g id="it100" transform="rotate(324.3243 1708 1445)"><use xlink:href="#dt" class="rY"/><text class="cY L" transform="translate(1708 535) rotate(90)"><tspan class="b" x="0" y="-2">Variable reward schedules</tspan><tspan class="p" x="0" y="19.5">(gambling mechanics)</tspan></text></g>
<g id="it101" transform="rotate(327.5676 1708 1445)"><use xlink:href="#dt" class="rY"/><text class="cY L" transform="translate(1708 535) rotate(90)"><tspan class="b" x="0" y="-2">Cue-routine-reward loops</tspan><tspan class="p" x="0" y="19.5">(behavioral conditioning)</tspan></text></g>
<g id="it103" transform="rotate(334.0541 1708 1445)"><use xlink:href="#dt" class="rY"/><text class="cY L" transform="translate(1708 535) rotate(90)"><tspan class="b" x="0" y="-2">Echo chamber intensification</tspan><tspan class="p" x="0" y="19.5">(belief hardening)</tspan></text></g>
<g id="it104" transform="rotate(337.2973 1708 1445)"><use xlink:href="#dt" class="rY"/><text class="cY L" transform="translate(1708 535) rotate(90)"><tspan class="b" x="0" y="-2">Gateway content</tspan><tspan class="p" x="0" y="19.5">(moderate to extreme)</tspan></text></g>
<g id="it105" transform="rotate(340.5405 1708 1445)"><use xlink:href="#dt" class="rY"/><text class="cY L" transform="translate(1708 535) rotate(90)"><tspan class="b" x="0" y="-2">Predictable radicalization paths</tspan><tspan class="p" x="0" y="19.5">(algorithmic extremism)</tspan></text></g>
<g id="it106" transform="rotate(343.7838 1708 1445)"><use xlink:href="#dt" class="rY"/><text class="cY L" transform="translate(1708 535) rotate(90)"><tspan class="b" x="0" y="-2">Exposure escalation</tspan><tspan class="p" x="0" y="19.5">(boundary pushing)</tspan></text></g>
<g id="it107" transform="rotate(347.027 1708 1445)"><use xlink:href="#dt" class="rY"/><text class="cY L" transform="translate(1708 535) rotate(90)"><tspan class="b" x="0" y="-2">Engagement-driven descent</tspan><tspan class="p" x="0" y="19.5">(clicks reward extremism)</tspan></text></g>
<g id="it108" transform="rotate(350.2703 1708 1445)"><use xlink:href="#dt" class="rY"/><text class="cY L" transform="translate(1708 535) rotate(90)"><tspan class="b" x="0" y="-2">Rabbit hole algorithms</tspan><tspan class="p" x="0" y="19.5">(content descent)</tspan></text></g>
<g id="it109" transform="rotate(353.5135 1708 1445)"><use xlink:href="#dt" class="rY"/><text class="cY L" transform="translate(1708 535) rotate(90)"><tspan class="b" x="0" y="-2">Recommendation radicalization</tspan><tspan class="p" x="0" y="19.5">(gradual extremity increase)</tspan></text></g>
</g>

<g id="categories">
<g id="n-dopamine"><g transform="rotate(8.1081 1708 1445)"><circle class="halo" cx="1708" cy="153" r="36"/><circle class="node rT" cx="1708" cy="153" r="25.5"/></g><text text-anchor="middle"><tspan class="lt lT" x="1905" y="42">Dopamine Circuit Hijacking <tspan class="ar">→</tspan></tspan><tspan class="ls sT" x="1905" y="80">"Direct exploitation of mesolimbic</tspan><tspan class="ls sT" x="1905" y="118">reward pathways"</tspan></text></g>
<g id="n-infinite"><g transform="rotate(27.5676 1708 1445)"><circle class="halo" cx="1708" cy="153" r="36"/><circle class="node rT" cx="1708" cy="153" r="25.5"/></g><text><tspan class="lt lT" x="2360" y="253">Infinite Engagement Design <tspan class="ar">→</tspan></tspan><tspan class="ls sT" x="2360" y="291">"Removal of natural stopping cues"</tspan></text></g>
<g id="n-temporal"><g transform="rotate(45.4054 1708 1445)"><circle class="halo" cx="1708" cy="153" r="36"/><circle class="node rT" cx="1708" cy="153" r="25.5"/></g><text><tspan class="lt lT" x="2702" y="478">Temporal Distortion <tspan class="ar">→</tspan></tspan><tspan class="ls sT" x="2702" y="516">"Warping time perception to</tspan><tspan class="ls sT" x="2702" y="554">maximize usage"</tspan></text></g>
<g id="n-interruption"><g transform="rotate(69.7297 1708 1445)"><circle class="halo" cx="1708" cy="153" r="36"/><circle class="node rT" cx="1708" cy="153" r="25.5"/></g><text><tspan class="lt lT" x="2986" y="964">Interruption Architecture <tspan class="ar">→</tspan></tspan><tspan class="ls sT" x="2986" y="1002">"Systematic attention</tspan><tspan class="ls sT" x="2986" y="1040">fragmentation"</tspan></text></g>
<g id="n-algorithmic"><g transform="rotate(94.0541 1708 1445)"><circle class="halo" cx="1708" cy="153" r="36"/><circle class="node rB" cx="1708" cy="153" r="25.5"/></g><text><tspan class="lt lB" x="3062" y="1519">Algorithmic Curation <tspan class="ar">→</tspan></tspan><tspan class="ls sB" x="3062" y="1557">"Personalized reality construction</tspan><tspan class="ls sB" x="3062" y="1595">through content filtering"</tspan></text></g>
<g id="n-information"><g transform="rotate(116.7568 1708 1445)"><circle class="halo" cx="1708" cy="153" r="36"/><circle class="node rB" cx="1708" cy="153" r="25.5"/></g><text><tspan class="lt lB" x="2933" y="2021">Information Manipulation <tspan class="ar">→</tspan></tspan><tspan class="ls sB" x="2933" y="2059">"Systematic truth degradation</tspan><tspan class="ls sB" x="2933" y="2097">and misinformation spread"</tspan></text></g>
<g id="n-authority"><g transform="rotate(141.0811 1708 1445)"><circle class="halo" cx="1708" cy="153" r="36"/><circle class="node rB" cx="1708" cy="153" r="25.5"/></g><text><tspan class="lt lB" x="2587" y="2509">Authority Distortion <tspan class="ar">→</tspan></tspan><tspan class="ls sB" x="2587" y="2547">"False credibility signal creation"</tspan></text></g>
<g id="n-consensus"><g transform="rotate(162.1622 1708 1445)"><circle class="halo" cx="1708" cy="153" r="36"/><circle class="node rB" cx="1708" cy="153" r="25.5"/></g><text><tspan class="lt lB" x="2080" y="2775">Consensus Manufacturing <tspan class="ar">→</tspan></tspan><tspan class="ls sB" x="2080" y="2813">"Artificial majority creation"</tspan></text></g>
<g id="n-negative"><g transform="rotate(183.2432 1708 1445)"><circle class="halo" cx="1708" cy="153" r="36"/><circle class="node rG" cx="1708" cy="153" r="25.5"/></g><text text-anchor="middle"><tspan class="lt lG" x="1650" y="2819">Negative Emotion Exploitation <tspan class="ar">→</tspan></tspan><tspan class="ls sG" x="1650" y="2857">"Rage and fear optimization for engagement"</tspan></text></g>
<g id="n-comparison"><g transform="rotate(207.5676 1708 1445)"><circle class="halo" cx="1708" cy="153" r="36"/><circle class="node rG" cx="1708" cy="153" r="25.5"/></g><text text-anchor="end"><tspan class="lt lG" x="1147" y="2686">Social Comparison Engineering <tspan class="ar">→</tspan></tspan><tspan class="ls sG" x="1147" y="2724">"Systematic inadequacy manufacturing"</tspan></text></g>
<g id="n-validation"><g transform="rotate(231.8919 1708 1445)"><circle class="halo" cx="1708" cy="153" r="36"/><circle class="node rG" cx="1708" cy="153" r="25.5"/></g><text text-anchor="end"><tspan class="lt lG" x="626" y="2239">Validation Dependency <tspan class="ar">→</tspan></tspan><tspan class="ls sG" x="626" y="2277">"External approvaladdiction</tspan><tspan class="ls sG" x="626" y="2315">creation"</tspan></text></g>
<g id="n-contagion"><g transform="rotate(252.973 1708 1445)"><circle class="halo" cx="1708" cy="153" r="36"/><circle class="node rG" cx="1708" cy="153" r="25.5"/></g><text text-anchor="end"><tspan class="lt lG" x="422" y="1815">Emotional Contagion <tspan class="ar">→</tspan></tspan><tspan class="ls sG" x="422" y="1853">"Mood state manipulation</tspan><tspan class="ls sG" x="422" y="1891">through exposure"</tspan></text></g>
<g id="n-nudge"><g transform="rotate(274.0541 1708 1445)"><circle class="halo" cx="1708" cy="153" r="36"/><circle class="node rY" cx="1708" cy="153" r="25.5"/></g><text text-anchor="end"><tspan class="lt lY" x="367" y="1326">Nudge Architecture <tspan class="ar">→</tspan></tspan><tspan class="ls sY" x="367" y="1364">"Choice architecture</tspan><tspan class="ls sY" x="367" y="1402">manipulation"</tspan></text></g>
<g id="n-socialproof"><g transform="rotate(296.7568 1708 1445)"><circle class="halo" cx="1708" cy="153" r="36"/><circle class="node rY" cx="1708" cy="153" r="25.5"/></g><text text-anchor="end"><tspan class="lt lY" x="502" y="849">Social Proof Weaponization <tspan class="ar">→</tspan></tspan><tspan class="ls sY" x="502" y="887">"Herd behavior exploitation"</tspan></text></g>
<g id="n-habit"><g transform="rotate(319.4595 1708 1445)"><circle class="halo" cx="1708" cy="153" r="36"/><circle class="node rY" cx="1708" cy="153" r="25.5"/></g><text text-anchor="end"><tspan class="lt lY" x="833" y="393">Habit Formation <tspan class="ar">→</tspan></tspan><tspan class="ls sY" x="833" y="431">"Compulsive behavior</tspan><tspan class="ls sY" x="833" y="469">engineering"</tspan></text></g>
<g id="n-radicalization"><g transform="rotate(343.7838 1708 1445)"><circle class="halo" cx="1708" cy="153" r="36"/><circle class="node rY" cx="1708" cy="153" r="25.5"/></g><text text-anchor="end"><tspan class="lt lY" x="1385" y="117">Radicalization Pathways <tspan class="ar">→</tspan></tspan><tspan class="ls sY" x="1385" y="155">"Progressive extremity exposure"</tspan></text></g>
</g>

<g id="center-title">
<text class="m1" x="1708" y="1280">MEDIA</text>
<text class="m1" x="1708" y="1344">MANIPULATION</text>
<text class="m2" x="1708" y="1408">CODEX</text>
<text class="m3"><tspan x="1708" y="1490">How our necessary biases</tspan><tspan x="1708" y="1543">get weaponized against us</tspan><tspan x="1708" y="1596">by systems designed</tspan><tspan x="1708" y="1649">to exploit them</tspan></text>
</g>

<g id="legend-behavioral">
<text class="h1" x="142" y="115" text-anchor="end">Control</text>
<text class="h2" x="32" y="172" text-anchor="end">re</text>
<text class="bt" text-anchor="end"><tspan x="317" y="238">gnitive capture into specific</tspan><tspan x="388" y="272">patterns that double to quadruple</tspan><tspan x="352" y="305">bit loops creating automaticity,</tspan><tspan x="298" y="338">rgeting that identifies and</tspan><tspan x="335" y="372">ychological vulnerabilities for</tspan><tspan x="202" y="405">cial manipulation.</tspan></text>
</g>
<g id="legend-attention">
<rect x="3224" y="75" width="16" height="368" fill="#85bfc1"/>
<text class="h1" x="3270" y="115">Attention Capture</text>
<text class="h2" x="3270" y="172">Mechanisms</text>
<text class="bt"><tspan x="3270" y="239">Platforms exploit neurological</tspan><tspan x="3270" y="272">through variable reinforcement</tspan><tspan x="3270" y="305">mirror gambling addiction, c</tspan><tspan x="3270" y="338">brain changes including reduced</tspan><tspan x="3270" y="371">altered dopamine pathways</tspan><tspan x="3270" y="404">generate 'time on site' by eliminating</tspan><tspan x="3270" y="437">stopping points and manufacturing</tspan></text>
</g>
<g id="legend-emotional">
<text class="h1" x="280" y="2583" text-anchor="end">Exploitation</text>
<text class="bt" text-anchor="end"><tspan x="267" y="2708">y manipulate emotional</tspan><tspan x="307" y="2742">gion experiments, optimize</tspan><tspan x="278" y="2776">s that drive engagement,</tspan><tspan x="209" y="2809">relationships that</tspan><tspan x="283" y="2842">nection while extracting</tspan><tspan x="127" y="2875">s content."</tspan></text>
</g>
<g id="legend-reality">
<rect x="3224" y="2543" width="16" height="330" fill="#7ba7d7"/>
<text class="h1" x="3270" y="2586">Reality Distortion</text>
<text class="h2" x="3270" y="2643">Engines</text>
<text class="bt"><tspan x="3270" y="2709">Algorithmic curation creates</tspan><tspan x="3270" y="2743">universes where false information</tspan><tspan x="3270" y="2776">faster than truth, repetition c</tspan><tspan x="3270" y="2809">validity, and synthetic media</tspan><tspan x="3270" y="2842">believing' obsolete. Each person</tspan><tspan x="3270" y="2875">becomes their personalized</tspan></text>
</g>
</svg>
